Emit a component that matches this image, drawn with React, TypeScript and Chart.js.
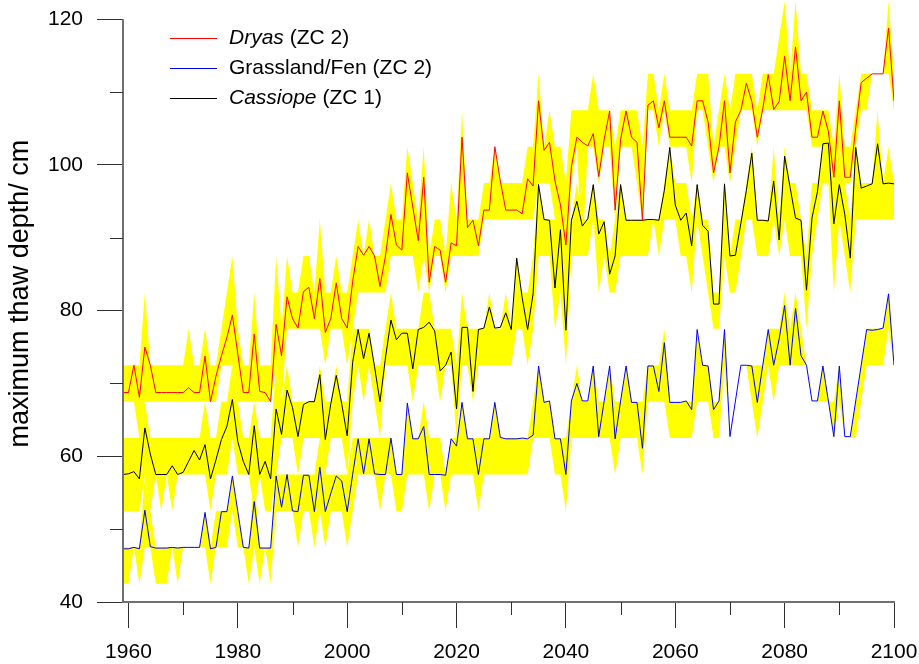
import React, { useEffect, useRef } from "react";
import { Chart, registerables } from "chart.js";

Chart.register(...registerables);

const FONT = "'Liberation Sans', Arial, Helvetica, sans-serif";

const FIRST_YEAR = 1959;
const LAST_YEAR = 2100;
const years: number[] = [];
for (let yr = FIRST_YEAR; yr <= LAST_YEAR; yr++) years.push(yr);

// ---- Dryas (ZC 2) ----
const dryasMean = [
  68.75,
  68.75, 72.5, 68.1, 75.0, 72.5, 68.75, 68.75, 68.75, 68.75, 68.75,
  68.75, 69.4, 68.75, 68.75, 73.75, 67.5, 71.0, 73.8, 76.3, 79.4,
  74.0, 68.75, 68.75, 76.8, 68.9, 68.75, 67.5, 78.1, 73.8, 81.9,
  78.9, 77.6, 82.6, 83.2, 78.9, 84.4, 77.0, 78.9, 83.8, 78.9,
  77.6, 84.0, 88.8, 87.6, 88.8, 87.5, 83.3, 87.5, 93.2, 89.0,
  88.3, 98.9, 94.2, 89.6, 98.3, 83.9, 88.8, 88.3, 83.9, 89.3,
  88.9, 103.8, 91.4, 92.4, 88.9, 93.8, 93.8, 102.5, 97.8, 93.8,
  93.8, 93.8, 93.3, 98.1, 97.1, 108.8, 102.0, 103.1, 97.8, 94.5,
  89.0, 99.7, 103.8, 103.1, 102.6, 104.3, 98.4, 103.5, 107.4, 93.8,
  103.5, 107.4, 103.8, 103.1, 92.4, 108.2, 108.8, 105.1, 108.8, 103.8,
  103.8, 103.8, 103.8, 102.6, 108.8, 108.8, 105.9, 98.9, 102.5, 108.8,
  98.9, 105.9, 107.5, 111.2, 108.7, 103.8, 107.7, 112.4, 107.6, 108.7,
  114.9, 108.8, 116.2, 108.8, 110.0, 103.8, 103.8, 107.4, 104.6, 98.3,
  108.8, 98.3, 98.3, 105.1, 111.3, 111.9, 112.5, 112.5, 112.5, 118.8,
  108.8,
];
const dryasLow = [
  67.5,
  67.5, 67.5, 62.5, 67.5, 67.5, 67.5, 67.5, 67.5, 67.5, 67.5,
  67.5, 67.5, 67.5, 67.5, 67.5, 67.5, 67.5, 72.5, 72.5, 72.5,
  67.5, 67.5, 67.5, 67.5, 67.5, 67.5, 67.5, 72.5, 67.5, 77.5,
  77.5, 77.5, 77.5, 77.5, 77.5, 77.5, 72.5, 77.5, 77.5, 77.5,
  72.5, 77.5, 82.5, 82.5, 82.5, 82.5, 82.5, 82.5, 87.5, 87.5,
  87.5, 87.5, 87.5, 82.5, 87.5, 82.5, 87.5, 87.5, 82.5, 87.5,
  87.5, 87.5, 87.5, 87.5, 87.5, 92.5, 92.5, 92.5, 92.5, 92.5,
  92.5, 92.5, 92.5, 92.5, 92.5, 97.5, 97.5, 97.5, 92.5, 87.5,
  82.5, 97.5, 102.5, 87.5, 102.5, 102.5, 97.5, 102.5, 102.5, 92.5,
  102.5, 102.5, 102.5, 97.5, 92.5, 107.5, 107.5, 102.5, 107.5, 102.5,
  102.5, 102.5, 102.5, 97.5, 107.5, 107.5, 102.5, 97.5, 102.5, 102.5,
  97.5, 102.5, 107.5, 107.5, 107.5, 102.5, 107.5, 107.5, 107.5, 107.5,
  107.5, 107.5, 107.5, 107.5, 107.5, 102.5, 102.5, 102.5, 97.5, 97.5,
  102.5, 97.5, 97.5, 102.5, 107.5, 107.5, 112.5, 112.5, 112.5, 112.5,
  107.5,
];
const dryasHigh = [
  72.5,
  72.5, 72.5, 72.5, 82.5, 72.5, 72.5, 72.5, 72.5, 72.5, 72.5,
  72.5, 77.5, 72.5, 72.5, 77.5, 72.5, 72.5, 77.5, 82.5, 87.5,
  77.5, 72.5, 72.5, 82.5, 72.5, 72.5, 72.5, 87.5, 77.5, 87.5,
  82.5, 82.5, 87.5, 87.5, 82.5, 92.5, 82.5, 82.5, 87.5, 82.5,
  82.5, 87.5, 92.5, 87.5, 92.5, 87.5, 87.5, 92.5, 97.5, 92.5,
  92.5, 102.5, 97.5, 92.5, 102.5, 87.5, 92.5, 92.5, 87.5, 97.5,
  92.5, 107.5, 92.5, 92.5, 92.5, 97.5, 97.5, 102.5, 97.5, 97.5,
  97.5, 97.5, 97.5, 102.5, 102.5, 112.5, 102.5, 107.5, 102.5, 102.5,
  97.5, 107.5, 107.5, 107.5, 107.5, 112.5, 107.5, 107.5, 107.5, 102.5,
  107.5, 107.5, 107.5, 107.5, 102.5, 112.5, 112.5, 107.5, 112.5, 107.5,
  107.5, 107.5, 107.5, 107.5, 112.5, 112.5, 112.5, 102.5, 107.5, 112.5,
  107.5, 112.5, 112.5, 112.5, 112.5, 107.5, 112.5, 112.5, 112.5, 117.5,
  122.5, 112.5, 122.5, 112.5, 112.5, 107.5, 107.5, 107.5, 107.5, 102.5,
  112.5, 102.5, 102.5, 107.5, 112.5, 112.5, 112.5, 112.5, 112.5, 122.5,
  112.5,
];

// ---- Grassland/Fen (ZC 2) ----
const grassMean = [
  47.3,
  47.3, 47.5, 47.3, 52.6, 47.6, 47.4, 47.4, 47.4, 47.5, 47.4,
  47.5, 47.5, 47.5, 47.5, 52.3, 47.3, 47.5, 52.4, 52.4, 57.3,
  52.4, 47.5, 47.4, 53.8, 47.4, 47.4, 47.4, 57.3, 53.0, 57.5,
  52.5, 52.4, 57.4, 57.4, 52.4, 58.5, 52.4, 54.9, 57.3, 56.6,
  52.4, 57.5, 62.4, 57.6, 62.4, 57.6, 57.5, 57.5, 62.5, 57.5,
  57.5, 67.3, 62.4, 62.4, 64.1, 57.5, 57.5, 57.5, 57.4, 62.4,
  61.4, 67.4, 62.4, 62.4, 57.5, 62.4, 62.4, 67.4, 62.6, 62.4,
  62.4, 62.4, 62.5, 62.4, 62.9, 72.4, 67.4, 67.6, 62.4, 62.4,
  57.5, 67.6, 70.0, 67.6, 67.6, 72.4, 62.7, 67.6, 72.4, 62.4,
  67.6, 72.4, 67.4, 67.4, 61.1, 72.4, 72.4, 68.9, 75.6, 67.4,
  67.4, 67.4, 67.6, 66.4, 77.4, 72.5, 72.4, 66.4, 67.6, 77.4,
  62.7, 67.6, 72.5, 72.5, 72.4, 67.4, 72.5, 77.4, 72.5, 76.1,
  80.7, 72.5, 80.3, 73.8, 72.5, 67.6, 67.6, 72.4, 67.6, 62.7,
  72.4, 62.7, 62.7, 67.6, 72.5, 77.4, 77.3, 77.4, 77.6, 82.3,
  72.5,
];
const grassLow = [
  42.5,
  42.5, 47.5, 42.5, 47.5, 47.5, 42.5, 42.5, 42.5, 47.5, 42.5,
  47.5, 47.5, 47.5, 47.5, 47.5, 42.5, 47.5, 47.5, 47.5, 52.5,
  47.5, 47.5, 42.5, 47.5, 42.5, 47.5, 42.5, 52.5, 52.5, 52.5,
  52.5, 47.5, 52.5, 52.5, 47.5, 52.5, 47.5, 52.5, 52.5, 52.5,
  47.5, 52.5, 57.5, 57.5, 57.5, 57.5, 52.5, 57.5, 57.5, 52.5,
  52.5, 57.5, 57.5, 57.5, 57.5, 52.5, 57.5, 57.5, 52.5, 57.5,
  57.5, 57.5, 57.5, 57.5, 52.5, 57.5, 57.5, 57.5, 57.5, 57.5,
  57.5, 57.5, 57.5, 57.5, 62.5, 62.5, 62.5, 62.5, 57.5, 57.5,
  52.5, 62.5, 62.5, 62.5, 62.5, 62.5, 62.5, 62.5, 62.5, 57.5,
  62.5, 62.5, 62.5, 62.5, 57.5, 67.5, 67.5, 67.5, 67.5, 62.5,
  62.5, 62.5, 62.5, 62.5, 67.5, 67.5, 67.5, 62.5, 62.5, 72.5,
  62.5, 67.5, 72.5, 72.5, 67.5, 62.5, 67.5, 72.5, 67.5, 72.5,
  72.5, 72.5, 72.5, 72.5, 72.5, 67.5, 67.5, 67.5, 67.5, 62.5,
  67.5, 62.5, 62.5, 62.5, 67.5, 72.5, 72.5, 72.5, 72.5, 77.5,
  72.5,
];
const grassHigh = [
  47.5,
  47.5, 47.5, 47.5, 57.5, 52.5, 47.5, 47.5, 47.5, 47.5, 47.5,
  47.5, 47.5, 47.5, 47.5, 52.5, 47.5, 52.5, 52.5, 52.5, 57.5,
  52.5, 47.5, 47.5, 57.5, 47.5, 47.5, 47.5, 57.5, 57.5, 57.5,
  57.5, 57.5, 57.5, 57.5, 57.5, 62.5, 57.5, 57.5, 57.5, 57.5,
  57.5, 62.5, 62.5, 62.5, 62.5, 62.5, 62.5, 62.5, 62.5, 57.5,
  57.5, 67.5, 62.5, 62.5, 67.5, 62.5, 62.5, 62.5, 57.5, 62.5,
  62.5, 67.5, 62.5, 62.5, 62.5, 62.5, 62.5, 67.5, 62.5, 62.5,
  62.5, 62.5, 62.5, 62.5, 67.5, 72.5, 67.5, 67.5, 62.5, 62.5,
  62.5, 67.5, 72.5, 67.5, 67.5, 72.5, 67.5, 67.5, 72.5, 67.5,
  67.5, 72.5, 67.5, 67.5, 67.5, 72.5, 72.5, 72.5, 77.5, 67.5,
  67.5, 67.5, 67.5, 67.5, 77.5, 72.5, 72.5, 67.5, 67.5, 77.5,
  62.5, 67.5, 72.5, 72.5, 72.5, 72.5, 72.5, 77.5, 77.5, 77.5,
  82.5, 77.5, 82.5, 77.5, 72.5, 67.5, 67.5, 72.5, 67.5, 67.5,
  72.5, 62.5, 62.5, 67.5, 72.5, 77.5, 77.5, 77.5, 77.5, 82.5,
  72.5,
];

// ---- Cassiope (ZC 1) ----
const cassiopeMean = [
  57.5,
  57.6, 57.9, 56.9, 63.9, 60.3, 57.5, 57.5, 57.5, 58.7, 57.5,
  57.8, 59.3, 60.8, 59.5, 61.6, 56.9, 59.5, 62.3, 64.1, 67.8,
  62.0, 59.3, 57.5, 64.2, 57.5, 59.3, 56.9, 66.5, 63.0, 69.1,
  66.7, 62.7, 67.1, 67.5, 67.5, 71.2, 62.3, 67.2, 71.1, 67.2,
  62.8, 72.9, 77.4, 73.4, 76.9, 72.3, 67.5, 73.5, 78.7, 76.0,
  76.9, 76.9, 72.0, 77.4, 77.7, 78.4, 77.2, 71.7, 72.5, 74.3,
  66.5, 77.7, 77.7, 68.9, 77.4, 77.6, 80.5, 77.6, 77.7, 79.7,
  77.4, 87.2, 81.8, 77.4, 82.3, 97.3, 92.5, 92.4, 83.1, 91.1,
  77.3, 92.4, 95.0, 91.6, 92.6, 97.3, 90.5, 92.2, 85.0, 87.5,
  97.3, 92.4, 92.4, 92.4, 92.4, 92.5, 92.5, 92.4, 96.5, 102.4,
  94.5, 92.4, 93.4, 88.9, 97.3, 91.7, 90.9, 80.9, 80.9, 97.4,
  87.5, 87.6, 92.0, 96.5, 101.6, 92.4, 92.4, 92.3, 97.8, 89.7,
  101.2, 96.9, 92.7, 92.4, 82.8, 92.7, 96.3, 102.9, 103.0, 91.9,
  97.3, 93.2, 87.2, 102.4, 96.8, 97.1, 97.4, 102.9, 97.4, 97.5,
  97.4,
];
const cassiopeLow = [
  52.5,
  52.5, 52.5, 52.5, 57.5, 52.5, 57.5, 52.5, 57.5, 52.5, 57.5,
  57.5, 57.5, 57.5, 57.5, 57.5, 52.5, 57.5, 57.5, 57.5, 62.5,
  57.5, 57.5, 57.5, 52.5, 57.5, 52.5, 52.5, 57.5, 62.5, 62.5,
  62.5, 57.5, 62.5, 62.5, 62.5, 62.5, 57.5, 62.5, 62.5, 62.5,
  57.5, 67.5, 72.5, 67.5, 72.5, 67.5, 62.5, 72.5, 72.5, 72.5,
  72.5, 72.5, 67.5, 72.5, 72.5, 72.5, 72.5, 67.5, 72.5, 72.5,
  62.5, 72.5, 72.5, 67.5, 72.5, 72.5, 72.5, 72.5, 72.5, 72.5,
  72.5, 77.5, 77.5, 72.5, 77.5, 87.5, 87.5, 87.5, 77.5, 82.5,
  72.5, 87.5, 87.5, 87.5, 87.5, 92.5, 82.5, 87.5, 82.5, 82.5,
  87.5, 87.5, 87.5, 87.5, 87.5, 87.5, 92.5, 87.5, 92.5, 92.5,
  92.5, 87.5, 87.5, 82.5, 92.5, 87.5, 82.5, 77.5, 77.5, 87.5,
  82.5, 82.5, 87.5, 92.5, 92.5, 87.5, 87.5, 87.5, 92.5, 87.5,
  92.5, 87.5, 87.5, 87.5, 77.5, 87.5, 92.5, 97.5, 97.5, 82.5,
  92.5, 87.5, 82.5, 92.5, 92.5, 92.5, 92.5, 92.5, 92.5, 92.5,
  92.5,
];
const cassiopeHigh = [
  62.5,
  62.5, 62.5, 62.5, 67.5, 62.5, 62.5, 62.5, 62.5, 62.5, 62.5,
  62.5, 62.5, 62.5, 62.5, 67.5, 62.5, 62.5, 67.5, 67.5, 72.5,
  67.5, 62.5, 62.5, 67.5, 62.5, 62.5, 62.5, 72.5, 67.5, 72.5,
  67.5, 67.5, 67.5, 67.5, 67.5, 72.5, 67.5, 67.5, 72.5, 67.5,
  67.5, 77.5, 77.5, 77.5, 77.5, 72.5, 72.5, 77.5, 82.5, 77.5,
  77.5, 77.5, 77.5, 77.5, 82.5, 82.5, 77.5, 77.5, 77.5, 77.5,
  72.5, 82.5, 77.5, 77.5, 77.5, 77.5, 82.5, 77.5, 77.5, 82.5,
  77.5, 87.5, 82.5, 82.5, 87.5, 97.5, 92.5, 92.5, 92.5, 92.5,
  87.5, 92.5, 97.5, 92.5, 92.5, 97.5, 92.5, 92.5, 87.5, 92.5,
  97.5, 92.5, 92.5, 92.5, 92.5, 92.5, 92.5, 92.5, 97.5, 102.5,
  97.5, 97.5, 97.5, 92.5, 97.5, 92.5, 92.5, 82.5, 82.5, 97.5,
  87.5, 92.5, 92.5, 97.5, 102.5, 92.5, 92.5, 92.5, 102.5, 92.5,
  102.5, 97.5, 97.5, 92.5, 87.5, 97.5, 97.5, 102.5, 102.5, 97.5,
  102.5, 97.5, 92.5, 102.5, 97.5, 97.5, 97.5, 107.5, 97.5, 102.5,
  97.5,
];

// ---- axes / legend text ----
const xMinorTicks = [1970, 1990, 2010, 2030, 2050, 2070, 2090];
const yMinorTicks = [50, 70, 90, 110];
const Y_MIN = 40;
const Y_TOP_TICK = 120;
const Y_MAX = 122.5;
const legendItalic = ["Dryas", "", "Cassiope"];
const legendPlain = [" (ZC 2)", "Grassland/Fen (ZC 2)", " (ZC 1)"];
const yTitle = "maximum thaw depth/ cm";

const BAND = "#ffff00";
const AXIS_COLOR = "#707070";
const TICK_COLOR = "#303030";
const MINOR_LEN = 13;
const MAJOR_LEN = 26;

const pts = (vals: number[]) => vals.map((v, i) => ({ x: years[i], y: v }));

const lineDs = (label: string, vals: number[], color: string) => ({
  label,
  data: pts(vals),
  borderColor: color,
  backgroundColor: color,
  borderWidth: 1,
  pointRadius: 0,
  fill: false,
  tension: 0,
  order: 0,
});
const bandHi = (vals: number[]) => ({
  label: "",
  data: pts(vals),
  borderColor: "transparent",
  borderWidth: 0,
  pointRadius: 0,
  backgroundColor: BAND,
  fill: "+1",
  tension: 0,
  order: 1,
});
const bandLo = (vals: number[]) => ({
  label: "",
  data: pts(vals),
  borderColor: "transparent",
  borderWidth: 0,
  pointRadius: 0,
  backgroundColor: BAND,
  fill: false,
  tension: 0,
  order: 1,
});

const decorPlugin = {
  id: "decor",
  afterDraw(chart: any) {
    const { ctx, chartArea } = chart;
    const xs = chart.scales.x;
    const ys = chart.scales.y;
    ctx.save();
    // y axis line (40 .. 120)
    ctx.strokeStyle = AXIS_COLOR;
    ctx.lineWidth = 2;
    ctx.beginPath();
    ctx.moveTo(chartArea.left, ys.getPixelForValue(Y_MIN) + 1);
    ctx.lineTo(chartArea.left, ys.getPixelForValue(Y_TOP_TICK));
    ctx.stroke();
    // minor ticks
    ctx.strokeStyle = TICK_COLOR;
    ctx.lineWidth = 1;
    ctx.beginPath();
    for (const v of xMinorTicks) {
      const px = Math.round(xs.getPixelForValue(v)) + 0.5;
      ctx.moveTo(px, chartArea.bottom);
      ctx.lineTo(px, chartArea.bottom + MINOR_LEN);
    }
    for (const v of yMinorTicks) {
      const py = Math.round(ys.getPixelForValue(v)) + 0.5;
      ctx.moveTo(chartArea.left - MINOR_LEN, py);
      ctx.lineTo(chartArea.left, py);
    }
    ctx.stroke();
    // y axis title
    ctx.save();
    ctx.translate(21, (ys.getPixelForValue(Y_MIN) + ys.getPixelForValue(Y_TOP_TICK)) / 2 - 17);
    ctx.rotate(-Math.PI / 2);
    ctx.fillStyle = "#000";
    ctx.font = `27px ${FONT}`;
    ctx.textAlign = "center";
    ctx.textBaseline = "middle";
    ctx.fillText(yTitle, 0, 0);
    ctx.restore();
    // legend
    const lx = chartArea.left + 47;
    const top = ys.getPixelForValue(Y_TOP_TICK) + 19;
    for (let i = 0; i < 3; i++) {
      const ds = chart.data.datasets[i];
      const y = Math.round(top + i * 30) + 0.5;
      ctx.strokeStyle = ds.borderColor;
      ctx.lineWidth = 1;
      ctx.beginPath();
      ctx.moveTo(lx, y);
      ctx.lineTo(lx + 47, y);
      ctx.stroke();
      ctx.fillStyle = "#000";
      ctx.textBaseline = "middle";
      ctx.textAlign = "left";
      let tx = lx + 59;
      if (legendItalic[i]) {
        ctx.font = `italic 21px ${FONT}`;
        ctx.fillText(legendItalic[i], tx, y);
        tx += ctx.measureText(legendItalic[i]).width;
      }
      ctx.font = `21px ${FONT}`;
      ctx.fillText(legendPlain[i], tx, y);
    }
    ctx.restore();
  },
};

export default function App() {
  const ref = useRef<HTMLCanvasElement>(null);
  useEffect(() => {
    if (!ref.current) return;
    Chart.defaults.font.family = FONT;
    const chart = new Chart(ref.current, {
      type: "line",
      data: {
        datasets: [
          lineDs("Dryas (ZC 2)", dryasMean, "#ff0000"),
          lineDs("Grassland/Fen (ZC 2)", grassMean, "#0000ff"),
          lineDs("Cassiope (ZC 1)", cassiopeMean, "#000000"),
          bandHi(dryasHigh),
          bandLo(dryasLow),
          bandHi(grassHigh),
          bandLo(grassLow),
          bandHi(cassiopeHigh),
          bandLo(cassiopeLow),
        ] as any,
      },
      options: {
        animation: false,
        responsive: true,
        maintainAspectRatio: false,
        events: [],
        layout: { padding: { top: 1, right: 25, bottom: 0, left: 0 } },
        plugins: {
          legend: { display: false },
          tooltip: { enabled: false },
          filler: { drawTime: "beforeDatasetsDraw" },
        } as any,
        scales: {
          x: {
            type: "linear",
            min: FIRST_YEAR,
            max: LAST_YEAR,
            afterFit(s: any) {
              s.height = 62;
              s.paddingLeft = 0;
              s.paddingRight = 0;
            },
            ticks: {
              stepSize: 20,
              includeBounds: false,
              autoSkip: false,
              maxRotation: 0,
              padding: 12,
              color: "#000",
              font: { family: FONT, size: 21 },
              callback: (v: any) => String(v),
            },
            grid: {
              display: true,
              drawOnChartArea: false,
              drawTicks: true,
              tickLength: MAJOR_LEN,
              tickColor: TICK_COLOR,
              tickWidth: 1,
            },
            border: { display: true, color: AXIS_COLOR, width: 2 },
          },
          y: {
            type: "linear",
            min: Y_MIN,
            max: Y_MAX,
            afterFit(s: any) {
              s.width = 123;
              s.paddingTop = 0;
              s.paddingBottom = 0;
            },
            ticks: {
              stepSize: 20,
              includeBounds: false,
              padding: 14,
              color: "#000",
              font: { family: FONT, size: 21 },
              callback: (v: any) => String(v),
            },
            grid: {
              display: true,
              drawOnChartArea: false,
              drawTicks: true,
              tickLength: MAJOR_LEN,
              tickColor: TICK_COLOR,
              tickWidth: 1,
            },
            border: { display: false },
            title: { display: false },
          },
        } as any,
      },
      plugins: [decorPlugin],
    });
    return () => chart.destroy();
  }, []);
  return (
    <div style={{ position: "fixed", left: 0, top: 0, width: 919, height: 664, background: "#fff" }}>
      <canvas ref={ref} />
    </div>
  );
}
